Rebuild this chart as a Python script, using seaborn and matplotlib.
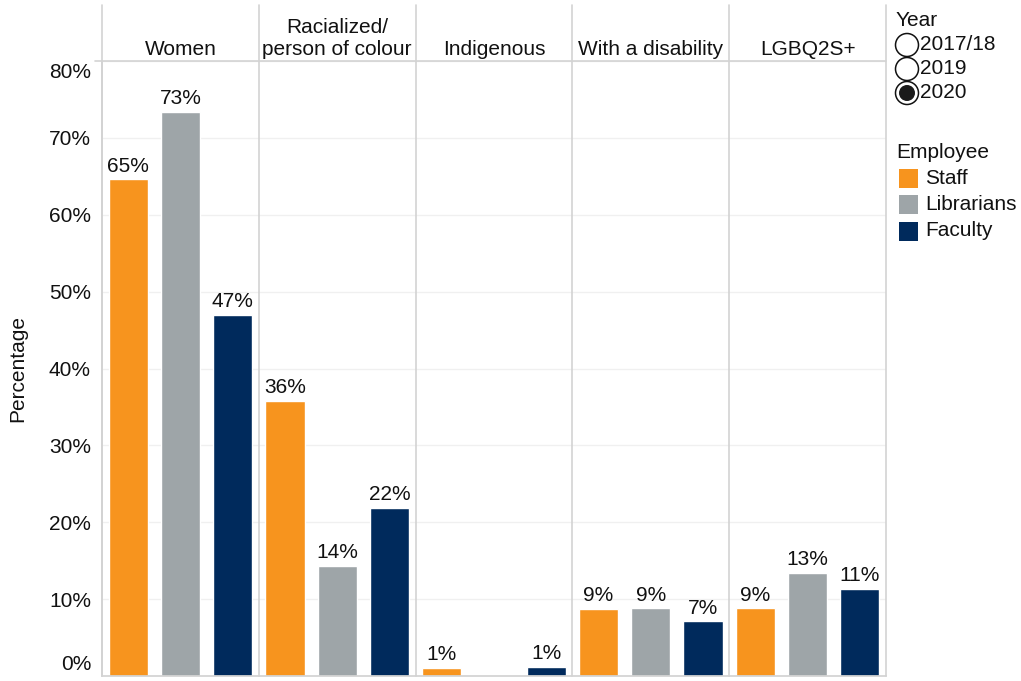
import matplotlib
matplotlib.use("Agg")
import matplotlib.pyplot as plt
from matplotlib.patches import Circle, Rectangle
import seaborn as sns
import pandas as pd

# data (2020)
groups = ["Women", "Racialized/\nperson of colour", "Indigenous", "With a disability", "LGBQ2S+"]
employees = ["Staff", "Librarians", "Faculty"]
staff = [64.6, 35.8, 1.0, 8.7, 8.8]
librarians = [73.4, 14.3, 0.0, 8.8, 13.4]
faculty = [47.0, 21.9, 1.2, 7.1, 11.3]
years = ["2017/18", "2019", "2020"]
yticks = [0, 10, 20, 30, 40, 50, 60, 70, 80]

colors = {"Staff": "#F7941E", "Librarians": "#9EA5A8", "Faculty": "#002A5C"}
line_c = "#D3D3D3"
txt_c = "#111111"
fs = 15

rows = []
for i, g in enumerate(groups):
    for emp, vals in zip(employees, [staff, librarians, faculty]):
        rows.append({"group": g, "employee": emp, "value": vals[i]})
df = pd.DataFrame(rows)

sns.set_theme(style="white")
plt.rcParams["font.family"] = ["Liberation Sans", "DejaVu Sans"]

W, H = 1021, 681
fig = plt.figure(figsize=(W / 100, H / 100), dpi=100)
x0, x1, y0, y1 = 102, 886, 61, 676
ax = fig.add_axes([x0 / W, (H - y1) / H, (x1 - x0) / W, (y1 - y0) / H])

sns.barplot(data=df, x="group", y="value", hue="employee", order=groups,
            hue_order=employees, palette=colors, width=1.0, gap=0.25,
            saturation=1, legend=False, ax=ax)

# value labels
for cont in ax.containers:
    for bar in cont:
        h = bar.get_height()
        if h > 0:
            ax.text(bar.get_x() + bar.get_width() / 2, h + 0.5, f"{h:.0f}%",
                    ha="center", va="bottom", fontsize=fs, color=txt_c)

ax.set_xlim(-0.5, len(groups) - 0.5)
ax.set_ylim(0, 80)
ax.set_yticks(yticks)
# end labels are pulled inside the pane (drawn on the overlay below)
ax.set_yticklabels(["" if t in (0, 80) else f"{t}%" for t in yticks], fontsize=fs)
ax.tick_params(axis="y", length=0, pad=8, colors=txt_c)
ax.set_xticks([])
ax.set_xlabel("")
ax.set_ylabel("")
ax.yaxis.grid(True, color="#F0F0F0", lw=1)
ax.set_axisbelow(True)
for s in ["top", "right"]:
    ax.spines[s].set_visible(False)
for s in ["left", "bottom"]:
    ax.spines[s].set_color(line_c)

# overlay in pixel coordinates for headers, separators and legend
ov = fig.add_axes([0, 0, 1, 1], zorder=5)
ov.set_xlim(0, W)
ov.set_ylim(H, 0)
ov.axis("off")

ov.text(x0 - 10.5, 73, "80%", ha="right", va="center", fontsize=fs, color=txt_c)
ov.text(x0 - 10.5, 665, "0%", ha="right", va="center", fontsize=fs, color=txt_c)
ov.text(18, 368, "Percentage", rotation=90, ha="center", va="center",
        fontsize=fs, color=txt_c)

pw = (x1 - x0) / len(groups)
for i in range(len(groups) + 1):
    ov.plot([x0 + i * pw] * 2, [5, y1], color=line_c, lw=1.2)
ov.plot([95, x1], [y0, y0], color=line_c, lw=1.2)
for i, g in enumerate(groups):
    ov.text(x0 + (i + 0.5) * pw, 59, g, ha="center", va="bottom", fontsize=fs,
            color=txt_c, linespacing=1.2)

# Year legend (radio buttons)
ov.text(896, 20, "Year", ha="left", va="center", fontsize=fs, color=txt_c)
for j, yr in enumerate(years):
    cy = 45 + j * 24
    ov.add_patch(Circle((907, cy), 11.5, fc="white", ec=txt_c, lw=1.1))
    if yr == "2020":
        ov.add_patch(Circle((907, cy), 8, fc="#1a1a1a", ec="none"))
    ov.text(920, cy, yr, ha="left", va="center", fontsize=fs, color=txt_c)

# Employee legend
ov.text(896, 153, "Employee", ha="left", va="center", fontsize=fs, color=txt_c)
for j, emp in enumerate(employees):
    cy = 178 + j * 26.5
    ov.add_patch(Rectangle((899, cy - 9.5), 19, 19, fc=colors[emp], ec="none"))
    ov.text(925, cy, emp, ha="left", va="center", fontsize=fs, color=txt_c)

fig.savefig("out.png", dpi=100)
